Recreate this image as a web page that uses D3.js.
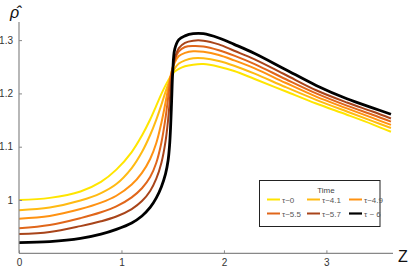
<!DOCTYPE html>
<html><head><meta charset="utf-8">
<script src="https://cdn.jsdelivr.net/npm/d3@7"></script>
<style>body{margin:0;background:#fff}svg{display:block;font-family:"Liberation Sans",Arial,sans-serif}</style>
</head><body><svg id="c" width="409" height="270"></svg>
<script>
const zGrid = [0,0.3,0.6,0.8,0.95,1.1,1.2,1.28,1.34,1.39,1.43,1.455,1.47,1.48,1.49,1.50,1.52,1.56,1.62,1.7,1.8,1.95,2.1,2.3,2.6,2.9,3.2,3.45,3.63];
const seriesNames = ["τ~0","τ~4.1","τ~4.9","τ~5.5","τ~5.7","τ ~ 6"];
const rho0  = [1.000,1.004,1.016,1.034,1.057,1.090,1.121,1.151,1.177,1.199,1.215,1.224,1.229,1.232,1.235,1.237,1.241,1.246,1.251,1.254,1.255,1.250,1.242,1.227,1.204,1.181,1.160,1.142,1.128];
const rho41 = [0.981,0.986,0.999,1.013,1.030,1.060,1.090,1.122,1.151,1.179,1.203,1.217,1.226,1.231,1.236,1.240,1.247,1.256,1.262,1.266,1.266,1.261,1.252,1.237,1.212,1.188,1.166,1.148,1.135];
const rho49 = [0.965,0.970,0.983,0.995,1.008,1.029,1.051,1.077,1.107,1.145,1.183,1.209,1.224,1.233,1.241,1.248,1.258,1.270,1.276,1.279,1.278,1.272,1.262,1.247,1.220,1.194,1.172,1.154,1.141];
const rho55 = [0.947,0.953,0.966,0.977,0.988,1.005,1.022,1.043,1.070,1.108,1.154,1.191,1.215,1.229,1.240,1.249,1.263,1.279,1.287,1.289,1.288,1.281,1.271,1.255,1.227,1.200,1.177,1.160,1.147];
const rho57 = [0.936,0.940,0.951,0.960,0.969,0.983,0.998,1.017,1.040,1.070,1.110,1.150,1.183,1.207,1.229,1.245,1.265,1.285,1.295,1.299,1.299,1.292,1.280,1.264,1.235,1.206,1.183,1.166,1.153];
const rho6  = [0.920,0.922,0.928,0.936,0.945,0.957,0.970,0.986,1.004,1.025,1.049,1.074,1.104,1.139,1.189,1.239,1.283,1.301,1.308,1.312,1.312,1.304,1.292,1.275,1.245,1.215,1.190,1.173,1.161];
const xTicks = [0,1,2,3];
const yTicks = [1,1.1,1.2,1.3];
const colors = ["#FFE500","#FFBA12","#FF9212","#E0661A","#A8441A","#000000"];
const widths = [2,2,2,2,2,2.8];

const allSeries = [rho0,rho41,rho49,rho55,rho57,rho6];
const svg = d3.select("#c");
const x = d3.scaleLinear().domain([0,3.65]).range([19,393]);
const y = d3.scaleLinear().domain([0.9,1.334]).range([253.3,22]);
const axisColor = "#888";

// curves
const line = d3.line().x((d,i)=>x(zGrid[i])).y(d=>y(d)).curve(d3.curveCatmullRom.alpha(0.5));
allSeries.forEach((s,i)=>{
  svg.append("path").attr("d",line(s)).attr("fill","none")
    .attr("stroke",colors[i]).attr("stroke-width",widths[i]);
});

// axes
const xAxis = d3.axisBottom(x).tickValues(xTicks).tickFormat(d3.format("d")).tickSizeInner(-3).tickSizeOuter(0).tickPadding(6);
const gx = svg.append("g").attr("transform",`translate(0,${y(0.9)})`).call(xAxis);
const yAxis = d3.axisLeft(y).tickValues(yTicks).tickFormat(d=>d===1?"1":d3.format(".1f")(d)).tickSizeInner(-3).tickSizeOuter(0).tickPadding(6);
const gy = svg.append("g").attr("transform",`translate(${x(0)},0)`).call(yAxis);
[gx,gy].forEach(g=>{
  g.select(".domain").attr("stroke",axisColor).attr("stroke-width",1.2);
  g.selectAll(".tick line").attr("stroke",axisColor);
  g.selectAll(".tick text").attr("fill","#333").style("font-size","10px").style("font-family","'Liberation Sans',Arial,sans-serif");
});
gx.select(".domain").attr("d",`M${x(0)},0H${x(3.65)}`);
gy.select(".domain").attr("d",`M0,${y(0.9)}V${y(1.334)}`);

svg.append("text").attr("x",398).attr("y",262).text("Z")
  .style("font-size","16px").attr("fill","#111");
svg.append("text").attr("x",10).attr("y",18).text("ρ̂")
  .style("font-size","16px").style("font-style","italic").attr("fill","#111");

// legend
const lg = svg.append("g");
lg.append("rect").attr("x",259.5).attr("y",180.5).attr("width",120.5).attr("height",46)
  .attr("fill","#fff").attr("stroke","#222").attr("stroke-width",1);
lg.append("text").attr("x",326).attr("y",193).attr("text-anchor","middle").text("Time")
  .style("font-size","8px").attr("fill","#444");
const colX = [267,307,349];
const rowY = [199.5,213.5];
seriesNames.forEach((n,i)=>{
  const cx = colX[i%3], cy = rowY[Math.floor(i/3)];
  lg.append("line").attr("x1",cx).attr("x2",cx+13).attr("y1",cy).attr("y2",cy)
    .attr("stroke",colors[i]).attr("stroke-width",i===5?2.2:2);
  lg.append("text").attr("x",cx+15).attr("y",cy+3).text(n)
    .style("font-size","8px").attr("fill","#555");
});
</script></body></html>
